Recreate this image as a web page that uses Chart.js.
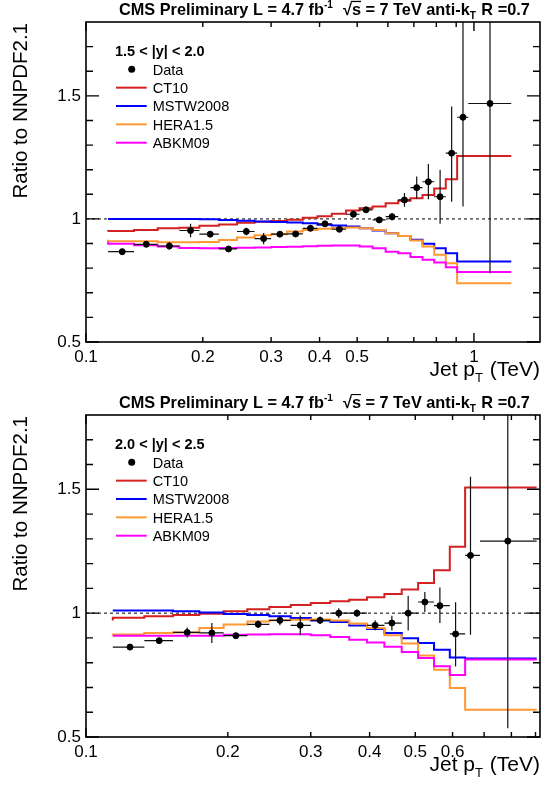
<!DOCTYPE html>
<html>
<head>
<meta charset="utf-8">
<script src="https://cdn.jsdelivr.net/npm/chart.js@4.4.0/dist/chart.umd.min.js"></script>
<style>
  html, body { margin: 0; padding: 0; background: #fff; }
  canvas { display: block; }
</style>
</head>
<body>
<canvas id="panelA" width="545" height="394"></canvas>
<canvas id="panelB" width="545" height="395"></canvas>
<script>
/* ==== data ========================================================= */
const FONT = '"Liberation Sans", Arial, Helvetica, sans-serif';

// 1.5 < |y| < 2.0 : bin edges in TeV
const edgesA = [0.114, 0.133, 0.153, 0.174, 0.196, 0.220, 0.245, 0.272, 0.300, 0.330, 0.362, 0.395,
  0.430, 0.468, 0.507, 0.548, 0.592, 0.638, 0.686, 0.737, 0.790, 0.846, 0.905, 0.967, 1.248];
const ptA = [0.124, 0.143, 0.164, 0.186, 0.209, 0.233, 0.259, 0.287, 0.316, 0.347, 0.379, 0.413,
  0.450, 0.489, 0.527, 0.570, 0.615, 0.662, 0.712, 0.763, 0.818, 0.876, 0.937, 1.10];
const dataA = [0.867, 0.897, 0.890, 0.953, 0.938, 0.878, 0.949, 0.920, 0.938, 0.939, 0.962, 0.980,
  0.958, 1.019, 1.037, 0.996, 1.009, 1.077, 1.127, 1.151, 1.090, 1.267, 1.413, 1.469];
const errUpA = [0.006, 0.006, 0.015, 0.027, 0.008, 0.010, 0.015, 0.023, 0.008, 0.008, 0.012, 0.010,
  0.010, 0.013, 0.010, 0.010, 0.015, 0.028, 0.045, 0.072, 0.110, 0.190, 0.450, 0.690];
const errDnA = [0.006, 0.006, 0.015, 0.027, 0.008, 0.010, 0.015, 0.023, 0.008, 0.008, 0.012, 0.010,
  0.010, 0.013, 0.010, 0.010, 0.015, 0.028, 0.045, 0.071, 0.110, 0.197, 0.363, 0.690];
const ct10A = [0.949, 0.951, 0.955, 0.962, 0.964, 0.972, 0.977, 0.984, 0.989, 0.992, 0.997, 1.005,
  1.011, 1.021, 1.034, 1.043, 1.050, 1.064, 1.074, 1.084, 1.097, 1.124, 1.161, 1.256];
const mstwA = [1.000, 1.000, 1.000, 1.000, 1.000, 0.999, 0.996, 0.993, 0.990, 0.988, 0.985, 0.982,
  0.976, 0.973, 0.969, 0.962, 0.953, 0.942, 0.931, 0.915, 0.899, 0.881, 0.861, 0.827];
const heraA = [0.915, 0.909, 0.909, 0.905, 0.905, 0.906, 0.914, 0.925, 0.934, 0.938, 0.949, 0.955,
  0.960, 0.963, 0.965, 0.962, 0.955, 0.942, 0.931, 0.912, 0.888, 0.854, 0.820, 0.739];
const abkmA = [0.907, 0.899, 0.893, 0.888, 0.882, 0.881, 0.882, 0.883, 0.884, 0.886, 0.887, 0.889,
  0.891, 0.892, 0.892, 0.888, 0.881, 0.867, 0.861, 0.845, 0.834, 0.823, 0.804, 0.784];

// 2.0 < |y| < 2.5
const edgesB = [0.114, 0.133, 0.153, 0.174, 0.196, 0.220, 0.245, 0.272, 0.300, 0.330, 0.362, 0.395,
  0.430, 0.468, 0.507, 0.548, 0.592, 0.638, 0.686, 0.905];
const ptB = [0.124, 0.143, 0.164, 0.185, 0.208, 0.232, 0.258, 0.285, 0.314, 0.344, 0.376, 0.411,
  0.446, 0.483, 0.524, 0.564, 0.609, 0.655, 0.786];
const dataB = [0.863, 0.889, 0.922, 0.920, 0.909, 0.955, 0.971, 0.951, 0.971, 1.000, 1.000, 0.951,
  0.960, 1.000, 1.045, 1.030, 0.916, 1.233, 1.291];
const errUpB = [0.008, 0.008, 0.020, 0.040, 0.010, 0.015, 0.020, 0.040, 0.015, 0.020, 0.015, 0.020,
  0.030, 0.070, 0.040, 0.074, 0.128, 0.318, 0.760];
const errDnB = [0.008, 0.008, 0.020, 0.040, 0.010, 0.015, 0.020, 0.040, 0.015, 0.020, 0.015, 0.020,
  0.030, 0.070, 0.040, 0.070, 0.131, 0.320, 0.756];
const ct10B = [0.970, 0.981, 0.987, 0.993, 0.998, 1.008, 1.016, 1.025, 1.033, 1.041, 1.048, 1.054,
  1.064, 1.077, 1.095, 1.122, 1.173, 1.268, 1.507];
const mstwB = [1.011, 1.011, 1.011, 1.008, 1.003, 0.997, 0.993, 0.987, 0.980, 0.970, 0.964, 0.950,
  0.936, 0.920, 0.899, 0.879, 0.852, 0.821, 0.817];
const heraB = [0.909, 0.914, 0.920, 0.922, 0.940, 0.954, 0.966, 0.971, 0.973, 0.974, 0.970, 0.958,
  0.940, 0.911, 0.877, 0.829, 0.772, 0.698, 0.610];
const abkmB = [0.909, 0.909, 0.909, 0.909, 0.909, 0.913, 0.914, 0.915, 0.915, 0.911, 0.904, 0.893,
  0.882, 0.864, 0.843, 0.819, 0.786, 0.750, 0.813];

const pdfNames = ['CT10', 'MSTW2008', 'HERA1.5', 'ABKM09'];
const pdfColors = ['#d42020', '#0000ff', '#ff9933', '#ff00ff'];

// axes
const yRange = [0.5, 1.8];
const yMajor = [0.5, 1, 1.5];
const yMinor = [0.6, 0.7, 0.8, 0.9, 1.1, 1.2, 1.3, 1.4, 1.6, 1.7];
const xRangeA = [0.1, 1.48];
const xLabelsA = [0.1, 0.2, 0.3, 0.4, 0.5, 1];
const xMinorA = [0.6, 0.7, 0.8, 0.9];
const xRangeB = [0.1, 0.92];
const xLabelsB = [0.1, 0.2, 0.3, 0.4, 0.5, 0.6];
const xMinorB = [0.7, 0.8, 0.9];

const titleParts = [
  { t: 'CMS Preliminary L = 4.7 fb' }, { t: '-1', k: 'sup' }, { t: '  \u221A' }, { t: 's', k: 'over' },
  { t: ' = 7 TeV anti-k' }, { t: 'T', k: 'sub' }, { t: ' R =0.7' }
];
const xTitleParts = [{ t: 'Jet p' }, { t: 'T', k: 'sub' }, { t: ' (TeV)' }];

/* ==== helpers ====================================================== */
// histogram -> step points (left edges + closing right edge)
const steps = (edges, vals) => edges.map((x, i) => ({ x, y: vals[Math.min(i, vals.length - 1)] }));

// text with ROOT-like sub/superscripts, returns width
function rich(ctx, parts, x, y, size, weight, draw = true) {
  let w = 0;
  parts.forEach(p => {
    const small = p.k === 'sup' || p.k === 'sub';
    const fs = small ? size * 0.62 : size;
    ctx.font = `${weight} ${fs}px ${FONT}`;
    const dy = p.k === 'sup' ? -size * 0.42 : p.k === 'sub' ? size * 0.28 : 0;
    const tw = ctx.measureText(p.t).width;
    if (draw) {
      ctx.fillText(p.t, x + w, y + dy);
      if (p.k === 'over') {
        ctx.save();
        ctx.lineWidth = size * 0.08;
        ctx.beginPath();
        ctx.moveTo(x + w - 1, y - size * 0.8);
        ctx.lineTo(x + w + tw, y - size * 0.8);
        ctx.stroke();
        ctx.restore();
      }
    }
    w += tw + (small ? 1 : 0);
  });
  return w;
}

/* ==== panel ======================================================== */
function panel(id, p) {
  const canvas = document.getElementById(id);
  const H = canvas.height;

  const rootStyle = {
    id: 'rootStyle',
    beforeDatasetDraw(chart, args) {
      if (args.index !== 0) return;
      const { ctx, chartArea: a, scales: { x: xs, y: ys } } = chart;
      ctx.save();
      ctx.beginPath();
      ctx.rect(a.left, a.top, a.right - a.left, a.bottom - a.top);
      ctx.clip();
      ctx.strokeStyle = '#111';
      ctx.lineWidth = 1.2;
      ctx.beginPath();
      p.pt.forEach((xv, i) => {
        const px = xs.getPixelForValue(xv), py = ys.getPixelForValue(p.data[i]);
        ctx.moveTo(xs.getPixelForValue(p.edges[i]), py);
        ctx.lineTo(xs.getPixelForValue(p.edges[i + 1]), py);
        ctx.moveTo(px, ys.getPixelForValue(p.data[i] + p.up[i]));
        ctx.lineTo(px, ys.getPixelForValue(p.data[i] - p.dn[i]));
      });
      ctx.stroke();
      ctx.restore();
    },
    afterDraw(chart) {
      const { ctx, chartArea: a, scales: { x: xs, y: ys } } = chart;
      ctx.save();
      ctx.strokeStyle = '#000';
      ctx.fillStyle = '#000';

      // frame + inward ticks on all four sides
      ctx.lineWidth = 1.6;
      ctx.strokeRect(a.left, a.top, a.right - a.left, a.bottom - a.top);
      ctx.lineWidth = 1.4;
      ctx.beginPath();
      yMajor.concat(yMinor).forEach(v => {
        const y = ys.getPixelForValue(v), len = yMajor.includes(v) ? 13 : 7;
        ctx.moveTo(a.left, y); ctx.lineTo(a.left + len, y);
        ctx.moveTo(a.right, y); ctx.lineTo(a.right - len, y);
      });
      p.xLabels.concat(p.xMinor).forEach(v => {
        const x = xs.getPixelForValue(v), len = (v === 0.1 || v === 1) ? 9 : 5;
        ctx.moveTo(x, a.bottom); ctx.lineTo(x, a.bottom - len);
        ctx.moveTo(x, a.top); ctx.lineTo(x, a.top + len);
      });
      ctx.stroke();

      // title
      ctx.textAlign = 'left';
      ctx.textBaseline = 'alphabetic';
      rich(ctx, titleParts, 119, a.top - 7.5, 16.3, 'bold');

      // y title
      ctx.save();
      ctx.translate(27, a.top + 1);
      ctx.rotate(-Math.PI / 2);
      ctx.textAlign = 'right';
      ctx.font = `20.5px ${FONT}`;
      ctx.fillText('Ratio to NNPDF2.1', 0, 0);
      ctx.restore();

      // x title, right aligned on the frame
      const wx = rich(ctx, xTitleParts, 0, 0, 21, 'normal', false);
      rich(ctx, xTitleParts, a.right - wx, a.bottom + 34, 21, 'normal');

      // legend
      const lx = a.left;
      ctx.font = `bold 14.5px ${FONT}`;
      ctx.fillText(p.header, lx + 29, a.top + 33.5);
      const row = k => a.top + 47.3 + 18.35 * k;
      ctx.beginPath();
      ctx.arc(lx + 45.7, row(0), 3.5, 0, Math.PI * 2);
      ctx.fill();
      ctx.font = `14.5px ${FONT}`;
      ctx.fillText('Data', lx + 66.7, row(0) + 5.2);
      pdfNames.forEach((n, k) => {
        ctx.strokeStyle = pdfColors[k];
        ctx.lineWidth = 2;
        ctx.beginPath();
        ctx.moveTo(lx + 30, row(k + 1));
        ctx.lineTo(lx + 60.7, row(k + 1));
        ctx.stroke();
        ctx.fillText(n, lx + 66.7, row(k + 1) + 5.2);
      });
      ctx.restore();
    }
  };

  const models = [p.ct10, p.mstw, p.hera, p.abkm];
  return new Chart(canvas, {
    type: 'scatter',
    data: {
      datasets: [
        {
          label: 'Data',
          data: p.pt.map((x, i) => ({ x, y: p.data[i] })),
          pointRadius: 3,
          pointBorderWidth: 1,
          pointBackgroundColor: '#000',
          pointBorderColor: '#000',
          order: 0
        },
        ...models.map((m, k) => ({
          label: pdfNames[k],
          data: steps(p.edges, m),
          showLine: true,
          stepped: 'after',
          borderColor: pdfColors[k],
          borderWidth: 2,
          pointRadius: 0,
          order: 4 - k
        })),
        {
          label: 'ratio = 1',
          data: [{ x: p.xRange[0], y: 1 }, { x: p.xRange[1], y: 1 }],
          showLine: true,
          borderColor: '#000',
          borderWidth: 1,
          borderDash: [3, 3],
          pointRadius: 0,
          order: 10
        }
      ]
    },
    options: {
      responsive: false,
      animation: false,
      events: [],
      layout: { padding: { top: p.top, right: 2, left: 0, bottom: 0 } },
      plugins: { legend: { display: false }, tooltip: { enabled: false } },
      scales: {
        x: {
          type: 'logarithmic',
          min: p.xRange[0], max: p.xRange[1],
          afterBuildTicks: s => { s.ticks = p.xLabels.map(v => ({ value: v })); },
          afterFit: s => { s.height = H - p.bottom; },
          grid: { display: false, drawTicks: false },
          border: { display: false },
          ticks: {
            autoSkip: false, maxRotation: 0, padding: 5, color: '#000',
            font: { family: FONT, size: 17 },
            callback: (v, i) => String(p.xLabels[i])
          }
        },
        y: {
          type: 'linear',
          min: yRange[0], max: yRange[1],
          afterBuildTicks: s => { s.ticks = yMajor.map(v => ({ value: v })); },
          afterFit: s => { s.width = 86; },
          grid: { display: false, drawTicks: false },
          border: { display: false },
          ticks: {
            autoSkip: false, padding: 5, color: '#000',
            font: { family: FONT, size: 17 },
            callback: (v, i) => String(yMajor[i])
          }
        }
      }
    },
    plugins: [rootStyle]
  });
}

/* ==== main ========================================================= */
panel('panelA', {
  header: '1.5 < |y| < 2.0', top: 22, bottom: 342,
  edges: edgesA, pt: ptA, data: dataA, up: errUpA, dn: errDnA,
  ct10: ct10A, mstw: mstwA, hera: heraA, abkm: abkmA,
  xRange: xRangeA, xLabels: xLabelsA, xMinor: xMinorA
});
panel('panelB', {
  header: '2.0 < |y| < 2.5', top: 21, bottom: 343,
  edges: edgesB, pt: ptB, data: dataB, up: errUpB, dn: errDnB,
  ct10: ct10B, mstw: mstwB, hera: heraB, abkm: abkmB,
  xRange: xRangeB, xLabels: xLabelsB, xMinor: xMinorB
});
</script>
</body>
</html>
